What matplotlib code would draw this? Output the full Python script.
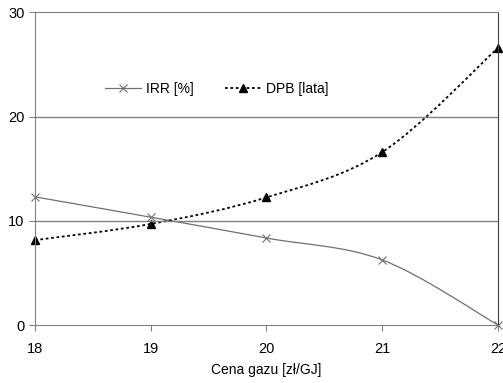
import numpy as np
import matplotlib
matplotlib.use('Agg')
from matplotlib import pyplot as plt
from matplotlib.path import Path
from matplotlib.patches import PathPatch

plt.rcParams['font.family'] = ['Liberation Sans', 'DejaVu Sans']

cena = [18, 19, 20, 21, 22]
irr = [12.3, 10.35, 8.35, 6.25, 0.0]
dpb = [8.15, 9.7, 12.25, 16.6, 26.6]

'''
Linia wygladzona jak w Excelu (krzywe Beziera)
'''
def gladka(x, y):
    x = np.asarray(x, float)
    y = np.asarray(y, float)
    verts = [(x[0], y[0])]
    codes = [Path.MOVETO]
    n = len(x)
    for i in range(n - 1):
        x0, y0 = (x[i-1], y[i-1]) if i > 0 else (x[i], y[i])
        x3, y3 = (x[i+2], y[i+2]) if i + 2 < n else (x[i+1], y[i+1])
        c1 = (x[i] + (x[i+1] - x0) / 6, y[i] + (y[i+1] - y0) / 6)
        c2 = (x[i+1] - (x3 - x[i]) / 6, y[i+1] - (y3 - y[i]) / 6)
        verts += [c1, c2, (x[i+1], y[i+1])]
        codes += [Path.CURVE4] * 3
    return Path(verts, codes)

fig = plt.figure(figsize=(5.03, 3.83), dpi=100)
ax = fig.add_axes([0.0696, 0.1514, 0.9204, 0.816])

ax.add_patch(PathPatch(gladka(cena, irr), fill=False, color='#707070', lw=0.9, clip_on=False))
ax.add_patch(PathPatch(gladka(cena, dpb), fill=False, color='black', lw=1.3,
                       ls=(0, (1.5, 1.5)), clip_on=False))
ax.plot(cena, irr, ls='none', marker='x', ms=6, mew=0.8, color='#707070', clip_on=False)
ax.plot(cena, dpb, ls='none', marker='^', ms=6, color='black', clip_on=False)

# wpisy legendy
ax.plot([], [], color='#707070', lw=0.9, marker='x', ms=6, mew=0.8, label='IRR [%]')
ax.plot([], [], color='black', lw=1.3, ls=(0, (1.5, 1.5)), marker='^', ms=6, label='DPB [lata]')
ax.legend(loc='center left', bbox_to_anchor=(0.125, 0.755), ncol=2, frameon=False,
          fontsize=10, handlelength=2.6, columnspacing=2.3, handletextpad=0.3)

ax.set_xlim(18, 22)
ax.set_ylim(0, 30)
ax.set_xticks(cena)
ax.set_yticks([0, 10, 20, 30])
for yy in [10, 20]:
    ax.axhline(yy, color='#808080', lw=1)
for s in ax.spines.values():
    s.set_color('#808080')
ax.spines['right'].set_color('#404040')
ax.tick_params(axis='both', direction='out', length=4, color='#808080', labelsize=10.5)
ax.tick_params(axis='x', pad=8)
ax.set_xlabel('Cena gazu [zł/GJ]', fontsize=10, labelpad=5)

plt.savefig('out.png', dpi=100)
